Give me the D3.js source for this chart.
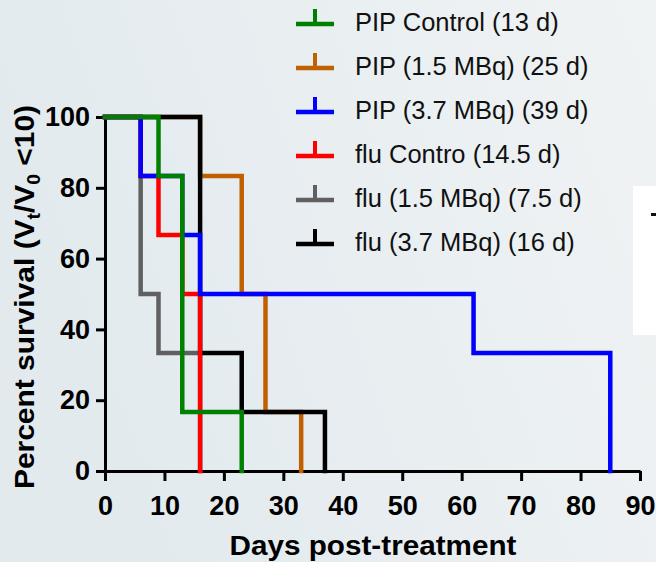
<!DOCTYPE html>
<html>
<head>
<meta charset="utf-8">
<script src="https://cdn.jsdelivr.net/npm/d3@7"></script>
<style>
  html, body { margin: 0; padding: 0; }
  svg { display: block; font-family: "Liberation Sans", Arial, sans-serif; }
</style>
</head>
<body>
<svg id="chart" width="656" height="562"></svg>
<script>
(function() {

  // survival steps: [day, percent surviving]
  let pipControl = [[0, 100], [9, 83.33], [13, 16.67], [23, 0]];
  let pip15 = [[0, 100], [16, 83.33], [23, 50], [27, 16.67], [33, 0]];
  let pip37 = [[0, 100], [6, 83.33], [13, 66.67], [16, 50], [62, 33.33], [85, 0]];
  let fluControl = [[0, 100], [6, 83.33], [9, 66.67], [13, 50], [16, 0]];
  let flu15 = [[0, 100], [6, 50], [9, 33.33], [16, 0]];
  let flu37 = [[0, 100], [16, 33.33], [23, 16.67], [37, 0]];

  let legendLabels = ["PIP Control (13 d)", "PIP (1.5 MBq) (25 d)", "PIP (3.7 MBq) (39 d)",
                      "flu Contro (14.5 d)", "flu (1.5 MBq) (7.5 d)", "flu (3.7 MBq) (16 d)"];
  let seriesData = [pipControl, pip15, pip37, fluControl, flu15, flu37];
  let colors = ["#008000", "#c06000", "#0000ff", "#ff0000", "#606060", "#000000"];
  // back to front
  let drawOrder = [1, 4, 5, 3, 2, 0];

  let xTicks = d3.range(0, 91, 10);
  let yTicks = d3.range(0, 101, 20);

  let svg = d3.select("#chart");

  // background
  let defs = svg.append("defs");
  let grad = defs.append("linearGradient")
                 .attr("id", "bg")
                 .attr("x1", "0").attr("y1", "0.3")
                 .attr("x2", "1").attr("y2", "0");
  grad.append("stop").attr("offset", "0").attr("stop-color", "#e2eaee");
  grad.append("stop").attr("offset", "1").attr("stop-color", "#f0f3f4");
  svg.append("rect")
     .attr("width", 656).attr("height", 562)
     .attr("fill", "url(#bg)");

  // bit of white panel cut off at right
  svg.append("rect")
     .attr("x", 633).attr("y", 186)
     .attr("width", 23).attr("height", 149)
     .attr("fill", "#ffffff");
  svg.append("rect")
     .attr("x", 651).attr("y", 213)
     .attr("width", 5).attr("height", 3)
     .attr("fill", "#111");

  let xScale = d3.scaleLinear()
                 .domain([0, 90])
                 .range([105, 640]);
  let yScale = d3.scaleLinear()
                 .domain([0, 100])
                 .range([471, 117]);

  // axes
  let xAxis = d3.axisBottom(xScale)
                .tickValues(xTicks)
                .tickSize(10)
                .tickSizeOuter(0)
                .tickPadding(15);
  let yAxis = d3.axisLeft(yScale)
                .tickValues(yTicks)
                .tickSize(9)
                .tickSizeOuter(0)
                .tickPadding(6);

  let gx = svg.append("g")
     .attr("transform", "translate(0," + yScale(0) + ")")
     .call(xAxis);
  let gy = svg.append("g")
     .attr("transform", "translate(" + xScale(0) + ",0)")
     .call(yAxis);

  [gx, gy].forEach(g => {
    g.select(".domain").attr("stroke", "#000").attr("stroke-width", 3);
    g.selectAll(".tick line").attr("stroke", "#000").attr("stroke-width", 3);
    g.selectAll(".tick text")
     .attr("fill", "#000")
     .attr("font-size", "27px")
     .attr("font-weight", "bold")
     .attr("font-family", "Liberation Sans, Arial, sans-serif");
  });

  // survival curves
  let line = d3.line()
               .x(d => xScale(d[0]))
               .y(d => yScale(d[1]))
               .curve(d3.curveStepAfter);

  drawOrder.forEach(i => {
    svg.append("path")
       .datum(seriesData[i])
       .attr("fill", "none")
       .attr("stroke", colors[i])
       .attr("stroke-width", 4.5)
       .attr("stroke-linejoin", "miter")
       .attr("stroke-linecap", "square")
       .attr("d", line);
  });

  // axis titles
  svg.append("text")
     .attr("transform", "translate(373,555) scale(1.06,1)")
     .attr("text-anchor", "middle")
     .attr("font-size", "28px")
     .attr("font-weight", "bold")
     .text("Days post-treatment");

  let yTitle = svg.append("text")
     .attr("transform", "translate(34,297) rotate(-90) scale(1.07,1)")
     .attr("text-anchor", "middle")
     .attr("font-size", "28px")
     .attr("font-weight", "bold");
  yTitle.append("tspan").text("Percent survival (V");
  yTitle.append("tspan").attr("font-size", "18px").attr("dy", 6).text("t");
  yTitle.append("tspan").attr("dy", -6).text("/V");
  yTitle.append("tspan").attr("font-size", "18px").attr("dy", 6).text("0");
  yTitle.append("tspan").attr("dy", -6).text(" <10)");

  // legend
  let legend = svg.append("g");
  legendLabels.forEach((lab, i) => {
    let base = 31 + i * 44;
    let row = legend.append("g");
    row.append("line")
       .attr("x1", 296).attr("x2", 334)
       .attr("y1", base - 7).attr("y2", base - 7)
       .attr("stroke", colors[i]).attr("stroke-width", 4.5);
    row.append("line")
       .attr("x1", 315).attr("x2", 315)
       .attr("y1", base - 22).attr("y2", base - 7)
       .attr("stroke", colors[i]).attr("stroke-width", 4);
    row.append("text")
       .attr("x", 355)
       .attr("y", base)
       .attr("font-size", "25.5px")
       .attr("fill", "#111")
       .text(lab);
  });

})();
</script>
</body>
</html>
